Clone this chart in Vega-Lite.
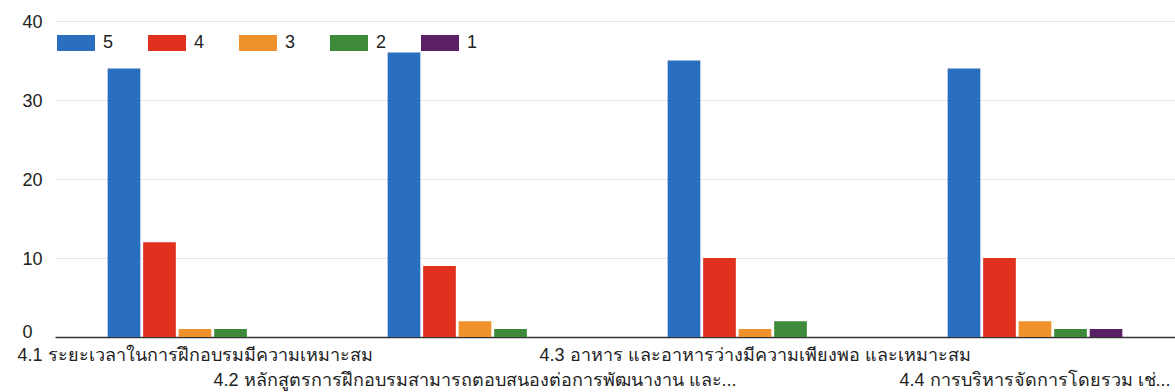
{
  "$schema": "https://vega.github.io/schema/vega-lite/v6.json",
  "width": 1120,
  "height": 316,
  "autosize": {"type": "none"},
  "padding": {"left": 55, "top": 21, "right": 0, "bottom": 55},
  "background": "white",
  "config": {
    "font": "Liberation Sans",
    "view": {"stroke": null}
  },
  "data": {
    "values": [
      {"item": "4.1 ระยะเวลาในการฝึกอบรมมีความเหมาะสม", "score": "5", "count": 34},
      {"item": "4.1 ระยะเวลาในการฝึกอบรมมีความเหมาะสม", "score": "4", "count": 12},
      {"item": "4.1 ระยะเวลาในการฝึกอบรมมีความเหมาะสม", "score": "3", "count": 1},
      {"item": "4.1 ระยะเวลาในการฝึกอบรมมีความเหมาะสม", "score": "2", "count": 1},
      {"item": "4.1 ระยะเวลาในการฝึกอบรมมีความเหมาะสม", "score": "1", "count": 0},
      {"item": "4.2 หลักสูตรการฝึกอบรมสามารถตอบสนองต่อการพัฒนางาน และ...", "score": "5", "count": 36},
      {"item": "4.2 หลักสูตรการฝึกอบรมสามารถตอบสนองต่อการพัฒนางาน และ...", "score": "4", "count": 9},
      {"item": "4.2 หลักสูตรการฝึกอบรมสามารถตอบสนองต่อการพัฒนางาน และ...", "score": "3", "count": 2},
      {"item": "4.2 หลักสูตรการฝึกอบรมสามารถตอบสนองต่อการพัฒนางาน และ...", "score": "2", "count": 1},
      {"item": "4.2 หลักสูตรการฝึกอบรมสามารถตอบสนองต่อการพัฒนางาน และ...", "score": "1", "count": 0},
      {"item": "4.3 อาหาร และอาหารว่างมีความเพียงพอ และเหมาะสม", "score": "5", "count": 35},
      {"item": "4.3 อาหาร และอาหารว่างมีความเพียงพอ และเหมาะสม", "score": "4", "count": 10},
      {"item": "4.3 อาหาร และอาหารว่างมีความเพียงพอ และเหมาะสม", "score": "3", "count": 1},
      {"item": "4.3 อาหาร และอาหารว่างมีความเพียงพอ และเหมาะสม", "score": "2", "count": 2},
      {"item": "4.3 อาหาร และอาหารว่างมีความเพียงพอ และเหมาะสม", "score": "1", "count": 0},
      {"item": "4.4 การบริหารจัดการโดยรวม เช่...", "score": "5", "count": 34},
      {"item": "4.4 การบริหารจัดการโดยรวม เช่...", "score": "4", "count": 10},
      {"item": "4.4 การบริหารจัดการโดยรวม เช่...", "score": "3", "count": 2},
      {"item": "4.4 การบริหารจัดการโดยรวม เช่...", "score": "2", "count": 1},
      {"item": "4.4 การบริหารจัดการโดยรวม เช่...", "score": "1", "count": 1}
    ]
  },
  "mark": {"type": "bar"},
  "encoding": {
    "x": {
      "field": "item",
      "type": "nominal",
      "sort": null,
      "title": null,
      "scale": {"paddingInner": 0.376, "paddingOuter": 0.188},
      "axis": {
        "labelAngle": 0,
        "labelFontSize": 18,
        "labelColor": "#222",
        "labelLimit": 0,
        "ticks": false,
        "domainColor": "#333",
        "domainWidth": 1.5,
        "labelPadding": 9,
        "labelLineHeight": 25,
        "labelExpr": "(indexof(datum.label, '4.2') == 0 || indexof(datum.label, '4.4') == 0) ? [' ', datum.label] : datum.label"
      }
    },
    "xOffset": {
      "field": "score",
      "type": "nominal",
      "sort": ["5", "4", "3", "2", "1"],
      "scale": {"paddingInner": 0.08}
    },
    "y": {
      "field": "count",
      "type": "quantitative",
      "title": null,
      "scale": {"domain": [0, 40], "nice": false},
      "axis": {
        "values": [0, 10, 20, 30, 40],
        "domain": false,
        "ticks": false,
        "labelAlign": "left",
        "labelPadding": 33,
        "labelFontSize": 18,
        "labelColor": "#222",
        "labelOffset": {"condition": {"test": "datum.value == 0", "value": -5}, "value": 1},
        "gridColor": "#e6e6e6"
      }
    },
    "color": {
      "field": "score",
      "type": "nominal",
      "sort": ["5", "4", "3", "2", "1"],
      "scale": {
        "domain": ["5", "4", "3", "2", "1"],
        "range": ["#2a6ebf", "#e0311f", "#f0922b", "#3d8a3a", "#5b1f66"]
      },
      "legend": {
        "title": null,
        "orient": "none",
        "direction": "horizontal",
        "legendX": 2,
        "legendY": 3,
        "symbolType": "M-1,-0.42L1,-0.42L1,0.42L-1,0.42Z",
        "symbolSize": 1444,
        "symbolStrokeWidth": 0,
        "symbolOpacity": 1,
        "labelFontSize": 18,
        "labelColor": "#222",
        "labelOffset": 8,
        "columnPadding": 34
      }
    }
  }
}
